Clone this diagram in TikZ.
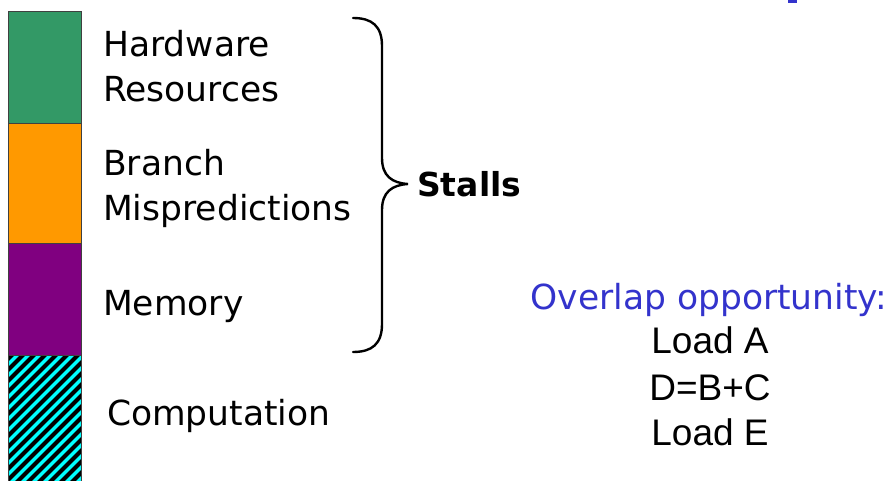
\documentclass[tikz,border=0pt]{standalone}
\usepackage{fontspec}
\setmainfont{DejaVu Sans}
\newfontfamily\arialfont{Liberation Sans}
\definecolor{hwgreen}{HTML}{339966}
\definecolor{brorange}{HTML}{FF9900}
\definecolor{mempurple}{HTML}{800080}
\definecolor{hatchcyan}{HTML}{00FFFF}
\definecolor{ovblue}{HTML}{3333CC}
\tikzset{
  segment/.style={draw=black!75, line width=0.8pt},
  lbl/.style={anchor=base west, inner sep=0pt, font=\fontsize{34.5}{40}\selectfont},
  code/.style={anchor=base, inner sep=0pt, font=\arialfont\fontsize{37}{42}\selectfont},
}
\begin{document}
\begin{tikzpicture}[x=1pt,y=-1pt]
\useasboundingbox (0,0) rectangle (891,481);
% stacked bar of cycle components
\fill[hwgreen] (8,11) rectangle (81,123);
\fill[brorange] (8,123) rectangle (81,243);
\fill[mempurple] (8,243) rectangle (81,355);
\fill[hatchcyan] (8,355) rectangle (81,481);
\begin{scope}
  \clip (8,355) rectangle (81,481);
  \foreach \x in {-140,-129,...,90}
    \draw[black, line width=4pt] (\x,485) -- (\x+140,345);
\end{scope}
\draw[segment] (8,481) -- (8,11) -- (81,11) -- (81,481);
\draw[segment] (8,123) -- (81,123);
\draw[segment] (8,243) -- (81,243);
\draw[segment] (8,355) -- (81,355);
% labels
\node[lbl] (hw1) at (103,57) {Hardware};
\node[lbl] (hw2) at (103,102) {Resources};
\node[lbl] (br1) at (103,176) {Branch};
\node[lbl] (br2) at (103,220) {Mispredictions};
\node[lbl] (mem) at (103,315) {Memory};
\node[lbl] (comp) at (107,425) {Computation};
% brace
\draw[line width=2.4pt, line cap=round]
  (353,18) .. controls (372,18) and (382,26) .. (382,46) -- (382,158)
  .. controls (382,176) and (392,183) .. (408,184)
  .. controls (392,185) and (382,192) .. (382,210) -- (382,324)
  .. controls (382,344) and (372,352) .. (353,352);
\node[anchor=west, inner sep=0pt, font=\bfseries\fontsize{33}{38}\selectfont] (stalls) at (417,184) {Stalls};
% overlap example
\node[anchor=base, inner sep=0pt, text=ovblue, font=\fontsize{34.5}{40}\selectfont] (ov) at (709,309) {Overlap opportunity:};
\node[code] (la) at (710,353) {Load A};
\node[code] (dbc) at (710,400) {D=B+C};
\node[code] (le) at (710,445) {Load E};
\fill[ovblue] (788,0) rectangle (797,3);
\end{tikzpicture}
\end{document}
